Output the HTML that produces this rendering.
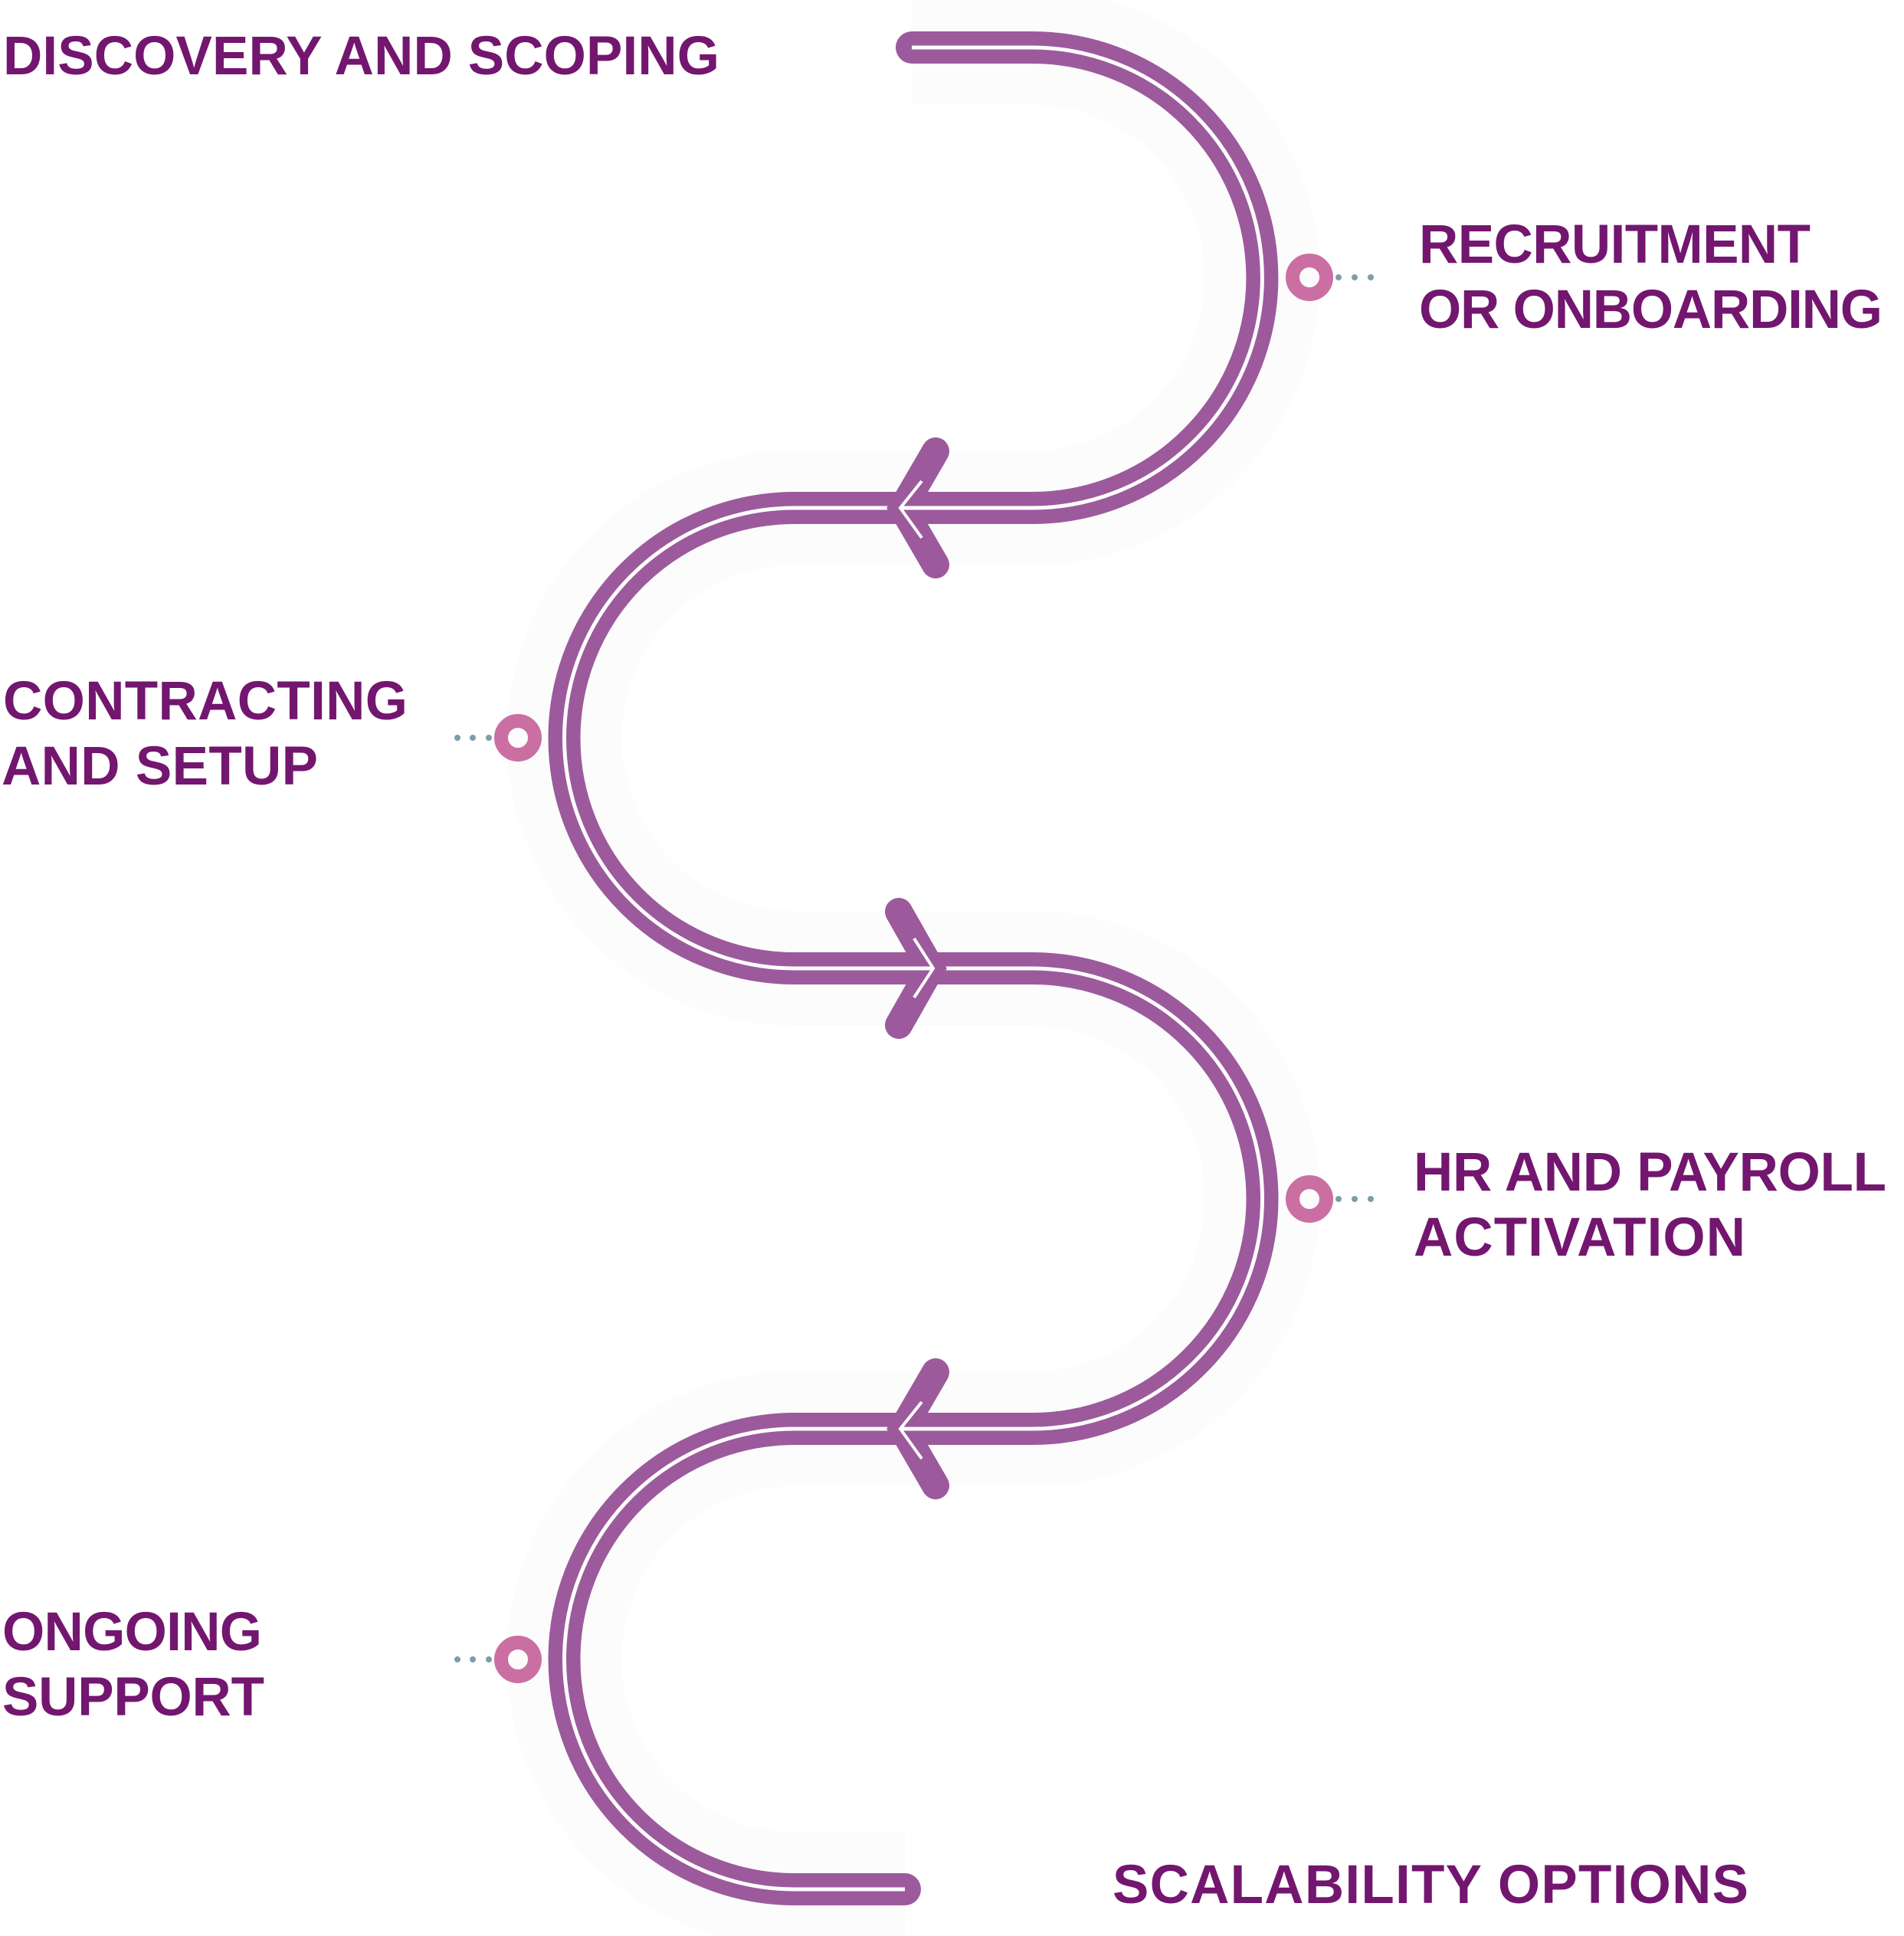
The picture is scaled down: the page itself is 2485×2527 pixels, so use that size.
<!DOCTYPE html>
<html><head><meta charset="utf-8"><style>
html,body{margin:0;padding:0;background:#fff;}
svg{display:block;}
text{font-family:"Liberation Sans",sans-serif;font-weight:bold;font-size:71px;fill:#73166f;}
</style></head><body>
<svg width="2485" height="2527" viewBox="0 0 2485 2527" xmlns="http://www.w3.org/2000/svg">
<path d="M1190 62 H1347 A300.5 300.5 0 0 1 1347 663 H1037 A300.5 300.5 0 0 0 1037 1264 H1347 A300.5 300.5 0 0 1 1347 1865 H1037 A300.5 300.5 0 0 0 1037 2466 H1181" fill="none" stroke="#fcfcfd" stroke-width="150"/>
<path d="M1190 62 H1347 A300.5 300.5 0 0 1 1347 663 H1037 A300.5 300.5 0 0 0 1037 1264 H1347 A300.5 300.5 0 0 1 1347 1865 H1037 A300.5 300.5 0 0 0 1037 2466 H1181" fill="none" stroke="#9c5a9c" stroke-width="42" stroke-linecap="round"/>
<path d="M1190 62 H1347 A300.5 300.5 0 0 1 1347 663 H1037 A300.5 300.5 0 0 0 1037 1264 H1347 A300.5 300.5 0 0 1 1347 1865 H1037 A300.5 300.5 0 0 0 1037 2466 H1181" fill="none" stroke="#fff" stroke-width="5"/>
<g fill="none" stroke="#9c5a9c" stroke-width="36" stroke-linecap="round" stroke-linejoin="miter">
<polyline points="1221,589 1178,663 1221,737"/>
<polyline points="1173,1190 1215,1264 1173,1338"/>
<polyline points="1221,1791 1178,1865 1221,1939"/>
</g>
<g fill="none" stroke="#fff" stroke-width="4">
<polyline points="1203,628 1175,663 1203,702"/><line x1="1175" y1="663" x2="1262" y2="663" stroke-width="5"/>
<polyline points="1193,1225 1218,1264 1193,1302"/><line x1="1140" y1="1264" x2="1218" y2="1264" stroke-width="5"/>
<polyline points="1203,1830 1175,1865 1203,1904"/><line x1="1175" y1="1865" x2="1262" y2="1865" stroke-width="5"/>
</g>
<g fill="none" stroke="#cb6fa3" stroke-width="18">
<circle cx="1709" cy="362" r="22"/>
<circle cx="676" cy="963" r="22"/>
<circle cx="1709" cy="1565" r="22"/>
<circle cx="676" cy="2166" r="22"/>
</g>
<g fill="#7d9dab">
<circle cx="1747" cy="362" r="4"/><circle cx="1768" cy="362" r="4"/><circle cx="1789" cy="362" r="4"/>
<circle cx="597" cy="963" r="4"/><circle cx="617" cy="963" r="4"/><circle cx="638" cy="963" r="4"/>
<circle cx="1747" cy="1565" r="4"/><circle cx="1768" cy="1565" r="4"/><circle cx="1789" cy="1565" r="4"/>
<circle cx="597" cy="2166" r="4"/><circle cx="617" cy="2166" r="4"/><circle cx="638" cy="2166" r="4"/>
</g>
<text x="4" y="97" textLength="935">DISCOVERY AND SCOPING</text>
<text x="1852" y="343" textLength="511">RECRUITMENT</text>
<text x="1852" y="428" textLength="605">OR ONBOARDING</text>
<text x="4" y="939" textLength="528">CONTRACTING</text>
<text x="2" y="1024" textLength="413">AND SETUP</text>
<text x="1845" y="1554" textLength="617">HR AND PAYROLL</text>
<text x="1845" y="1639" textLength="433">ACTIVATION</text>
<text x="3" y="2154" textLength="339">ONGOING</text>
<text x="3" y="2239" textLength="342">SUPPORT</text>
<text x="1452" y="2484" textLength="830">SCALABILITY OPTIONS</text>
</svg>
</body></html>
